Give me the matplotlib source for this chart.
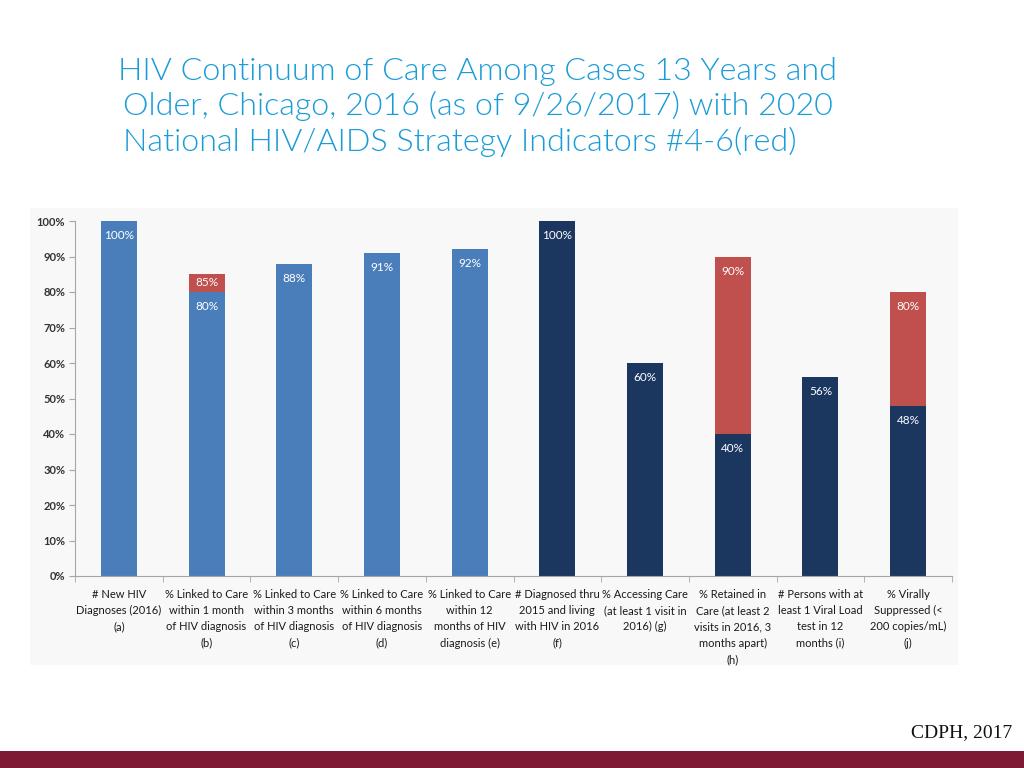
import numpy as np
import matplotlib
matplotlib.use('Agg')
import matplotlib.pyplot as plt
from matplotlib.patches import Rectangle

# data
categories = [
    "# New HIV\nDiagnoses (2016)\n(a)",
    "% Linked to Care\nwithin 1 month\nof HIV diagnosis\n(b)",
    "% Linked to Care\nwithin 3 months\nof HIV diagnosis\n(c)",
    "% Linked to Care\nwithin 6 months\nof HIV diagnosis\n(d)",
    "% Linked to Care\nwithin 12\nmonths of HIV\ndiagnosis (e)",
    "# Diagnosed thru\n2015 and living\nwith HIV in 2016\n(f)",
    "% Accessing Care\n(at least 1 visit in\n2016) (g)",
    "% Retained in\nCare (at least 2\nvisits in 2016, 3\nmonths apart)\n(h)",
    "# Persons with at\nleast 1 Viral Load\ntest in 12\nmonths (i)",
    "% Virally\nSuppressed (<\n200 copies/mL)\n(j)",
]
values = [100, 80, 88, 91, 92, 100, 60, 40, 56, 48]
targets = [None, 85, None, None, None, None, None, 90, None, 80]
group = ['new', 'new', 'new', 'new', 'new', 'prev', 'prev', 'prev', 'prev', 'prev']

title_lines = [
    "HIV Continuum of Care Among Cases 13 Years and",
    "Older, Chicago, 2016 (as of 9/26/2017) with 2020",
    "National HIV/AIDS Strategy Indicators #4-6(red)",
]

light_blue = '#4a7ebb'
navy = '#1b365f'
red = '#c0504d'
bar_colors = {'new': light_blue, 'prev': navy}

fig = plt.figure(figsize=(10.24, 7.68), dpi=100)
W, H = 1024, 768

# faint panel behind the chart (pasted image look)
fig.patches.append(Rectangle((30 / W, 1 - 665 / H), 928 / W, 457 / H,
                             transform=fig.transFigure, facecolor='#f8f8f8',
                             edgecolor='none', zorder=-5))

# bottom maroon band
fig.patches.append(Rectangle((0, 0), 1, 17 / H, transform=fig.transFigure,
                             facecolor='#7e1a31', edgecolor='none', zorder=-5))

ax = fig.add_axes([75 / W, 1 - 576 / H, 877 / W, 355 / H])
ax.set_facecolor('none')
ax.set_zorder(5)

x = np.arange(len(values))
cols = [bar_colors[g] for g in group]
ax.bar(x, values, width=0.41, color=cols, zorder=2)

extra = [t - v if t is not None else 0 for t, v in zip(targets, values)]
ax.bar(x, extra, bottom=values, width=0.41, color=red, zorder=2)

for i, v in enumerate(values):
    ax.annotate(f'{v}%', (x[i], v), xytext=(0, -10.5), textcoords='offset points',
                ha='center', va='center', color='white', fontsize=8.5,
                family='Lato')
    t = targets[i]
    if t is not None:
        off = -6 if t - v < 10 else -10.5
        ax.annotate(f'{t}%', (x[i], t), xytext=(0, off), textcoords='offset points',
                    ha='center', va='center', color='white', fontsize=8.5,
                    family='Lato')

ax.set_xlim(-0.5, len(values) - 0.5)
ax.set_ylim(0, 100)
ax.set_yticks(np.arange(0, 101, 10))
ax.set_yticklabels([f'{t}%' for t in range(0, 101, 10)], fontsize=8,
                   color='#333333', family='Lato', fontweight='bold')
ax.set_xticks(x)
ax.set_xticklabels(categories, fontsize=8, color='#1a1a1a', family='Lato',
                   linespacing=1.6, va='top')
ax.tick_params(axis='x', length=0, pad=9)
ax.set_xticks(np.arange(-0.5, len(values), 1), minor=True)
ax.tick_params(axis='x', which='minor', length=4, color='#a6a6a6')
ax.tick_params(axis='y', length=4, color='#a6a6a6', pad=3)

for s in ['top', 'right']:
    ax.spines[s].set_visible(False)
for s in ['left', 'bottom']:
    ax.spines[s].set_color('#a6a6a6')
    ax.spines[s].set_linewidth(0.8)

# title
title_pos = [(118, 72), (123, 106), (123, 142)]
for line, (px, py) in zip(title_lines, title_pos):
    fig.text(px / W, 1 - py / H, line, fontsize=23.2, color='#1a9cd8',
             family='Lato', fontweight=300, ha='left', va='center')

fig.text(1012 / W, 1 - 733 / H, 'CDPH, 2017', fontsize=14, color='#111111',
         family='Liberation Serif', ha='right', va='center')

fig.savefig('out.png', dpi=100)
